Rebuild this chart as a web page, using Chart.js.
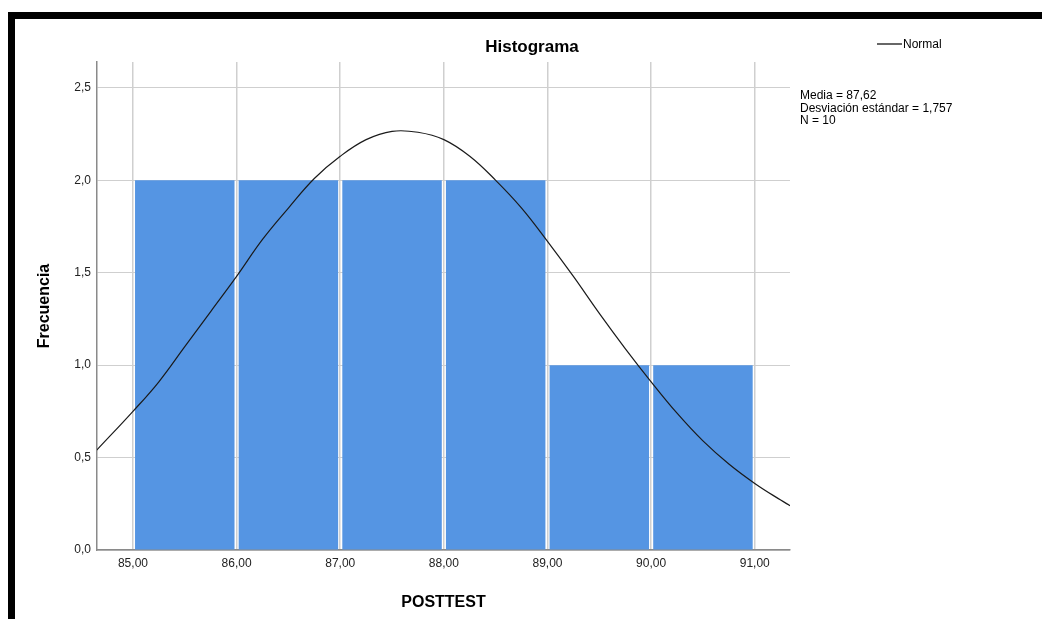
<!DOCTYPE html>
<html>
<head>
<meta charset="utf-8">
<script src="https://cdn.jsdelivr.net/npm/chart.js@4"></script>
<style>
  html, body { margin: 0; padding: 0; background: #fff; }
  #wrap { position: relative; width: 1042px; height: 619px; overflow: hidden; }
  #frameTop { position: absolute; left: 8px; top: 12px; width: 1034px; height: 7px; background: #000; }
  #frameLeft { position: absolute; left: 8px; top: 12px; width: 7px; height: 607px; background: #000; }
  canvas { position: absolute; left: 0; top: 0; }
</style>
</head>
<body>
<div id="wrap">
  <canvas id="chart" width="1042" height="619"></canvas>
  <div id="frameTop"></div>
  <div id="frameLeft"></div>
</div>
<script>
// histogram bins (centre of each 1-unit bin) and counts
const binCenters = [85.5, 86.5, 87.5, 88.5, 89.5, 90.5];
const counts = [2, 2, 2, 2, 1, 1];

// normal curve
const curveX = [84.65, 85.0, 85.25, 85.5, 85.75, 86.0, 86.25, 86.5, 86.75, 87.0, 87.25, 87.5, 87.75,
                88.0, 88.25, 88.5, 88.75, 89.0, 89.25, 89.5, 89.75, 90.0, 90.25, 90.5, 90.75, 91.0, 91.25, 91.34];
const curveY = [0.54, 0.75, 0.91, 1.10, 1.29, 1.48, 1.68, 1.85, 2.01, 2.13, 2.22, 2.265, 2.26,
                2.22, 2.13, 2.00, 1.85, 1.67, 1.48, 1.28, 1.09, 0.91, 0.74, 0.59, 0.465, 0.36, 0.27, 0.24];

const xTicks = [85, 86, 87, 88, 89, 90, 91];
const yTicks = [0, 0.5, 1, 1.5, 2, 2.5];

const statLines = ["Media = 87,62", "Desviación estándar = 1,757", "N = 10"];

const fmt = (v, d) => v.toFixed(d).replace(".", ",");

const textPlugin = {
  id: "extraText",
  afterDraw(chart) {
    const ctx = chart.ctx;
    ctx.save();
    ctx.fillStyle = "#000";
    ctx.font = "bold 17px 'Liberation Sans', Arial, sans-serif";
    ctx.textAlign = "center";
    ctx.textBaseline = "middle";
    ctx.fillText("Histograma", 532, 47);

    // legend
    ctx.strokeStyle = "#000";
    ctx.lineWidth = 1.2;
    ctx.beginPath();
    ctx.moveTo(877, 44);
    ctx.lineTo(902, 44);
    ctx.stroke();
    ctx.font = "12px 'Liberation Sans', Arial, sans-serif";
    ctx.textAlign = "left";
    ctx.fillText("Normal", 903, 45);

    statLines.forEach((s, i) => ctx.fillText(s, 800, 96 + i * 12.5));
    ctx.restore();
  }
};

const ctx = document.getElementById("chart").getContext("2d");

new Chart(ctx, {
  data: {
    datasets: [
      {
        type: "line",
        data: curveX.map((x, i) => ({ x: x, y: curveY[i] })),
        borderColor: "#1a1a1a",
        borderWidth: 1.2,
        pointRadius: 0,
        tension: 0.4,
        fill: false,
        order: 0
      },
      {
        type: "bar",
        data: binCenters.map((x, i) => ({ x: x, y: counts[i] })),
        backgroundColor: "#5595e3",
        borderWidth: 0,
        barPercentage: 0.96,
        categoryPercentage: 1,
        order: 1
      }
    ]
  },
  options: {
    responsive: false,
    animation: false,
    layout: { padding: { left: 0, right: 252, top: 62, bottom: 0 } },
    plugins: { legend: { display: false }, tooltip: { enabled: false }, title: { display: false } },
    scales: {
      x: {
        type: "linear",
        min: 84.653,
        max: 91.34,
        offset: false,
        afterBuildTicks: s => { s.ticks = xTicks.map(v => ({ value: v })); },
        afterFit: s => { s.height = 69; },
        ticks: {
          callback: v => fmt(v, 2),
          color: "#222",
          font: { family: "'Liberation Sans', Arial, sans-serif", size: 12 },
          padding: 6,
          maxRotation: 0
        },
        grid: { color: "#cfcfcf", lineWidth: 1.5, drawTicks: false, offset: false },
        border: { color: "#8a8a8a", width: 1.5 },
        title: {
          display: true,
          text: "POSTTEST",
          color: "#000",
          font: { family: "'Liberation Sans', Arial, sans-serif", size: 16, weight: "bold" },
          padding: { top: 0, bottom: 7 }
        }
      },
      y: {
        type: "linear",
        min: 0,
        max: 2.64,
        afterBuildTicks: s => { s.ticks = yTicks.map(v => ({ value: v })); },
        afterFit: s => { s.width = 97; },
        ticks: {
          callback: v => fmt(v, 1),
          color: "#222",
          font: { family: "'Liberation Sans', Arial, sans-serif", size: 12 },
          padding: 6
        },
        grid: { color: "#cfcfcf", lineWidth: 1, drawTicks: false },
        border: { color: "#8a8a8a", width: 1.5 },
        title: {
          display: true,
          text: "Frecuencia",
          color: "#000",
          font: { family: "'Liberation Sans', Arial, sans-serif", size: 16, weight: "bold" },
          padding: { top: 35, bottom: 0 }
        }
      }
    }
  },
  plugins: [textPlugin]
});
</script>
</body>
</html>
